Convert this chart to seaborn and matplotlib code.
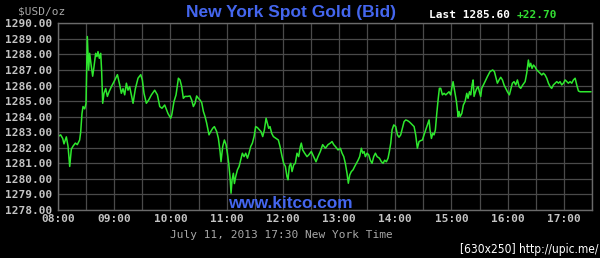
import matplotlib
matplotlib.use("Agg")
import matplotlib.pyplot as plt
import seaborn as sns
import pandas as pd
from matplotlib.ticker import FixedLocator, FuncFormatter

# ---- data (minutes after 08:00, New York time; bid price USD/oz) ----
minutes = [
    0, 2.8, 5.0, 6.4, 8.9, 10.7, 12.5, 14.2, 16.0, 18.5, 20.6, 23.1, 24.2, 25.6, 26.7, 28.5, 29.9,
    31.3, 32.7, 33.8, 35.2, 37.0, 38.4, 40.2, 41.6, 42.7, 44.1, 45.6, 46.6, 47.7, 49.1, 50.9, 52.7,
    54.5, 57.0, 59.8, 63.4, 65.9, 67.6, 69.4, 71.2, 73.0, 74.7, 76.5, 78.3, 80.1, 82.6, 85.4, 88.3,
    90.0, 91.8, 94.3, 96.8, 99.7, 103.2, 106.1, 108.6, 111.0, 113.9, 117.4, 120.3,
    121.4, 123.8, 126.0, 128.5, 130.2, 132.0, 133.8, 135.6, 138.1, 140.9, 142.7, 144.5, 146.3, 148.0,
    149.8, 151.6, 153.4, 155.2, 157.0, 158.7, 161.2, 163.0, 165.1, 166.9, 169.4, 171.2, 173.0, 174.0,
    175.8, 177.6, 179.4, 180.8, 182.2, 183.6, 184.7, 185.8, 187.2, 188.3, 189.7, 191.5, 193.3, 195.0,
    196.8, 198.6, 200.4, 202.2, 203.9, 205.7, 207.5, 209.3, 211.0, 212.8, 215.0, 216.7, 218.5, 220.3,
    222.1, 223.5, 224.9, 226.3, 228.1, 229.9, 232.7, 235.2, 237.0, 239.1,
    240.9, 242.7, 244.4, 245.5, 246.9, 248.4, 249.8, 251.6, 253.3, 255.1, 256.9, 258.7, 259.7, 261.2,
    263.3, 265.8, 267.6, 270.4, 272.9, 275.4, 277.5, 280.0, 282.5, 285.4, 288.2, 290.7, 292.5, 294.3,
    296.1, 298.9, 301.4, 303.2, 305.0, 306.7, 308.5, 309.9, 311.4, 313.1, 314.9, 316.7, 318.5, 320.3,
    322.0, 323.8, 325.3, 326.7, 328.1, 329.9, 331.7, 333.4, 335.2, 337.0, 338.8, 340.6, 343.1, 345.2,
    347.0, 348.7, 350.5, 352.3, 353.7, 355.2, 356.6, 358.4,
    360.5, 362.3, 364.0, 365.8, 367.6, 369.4, 371.2, 372.9, 374.7, 376.5, 378.3, 380.1, 381.8, 383.6,
    385.4, 387.2, 389.0, 390.7, 392.5, 394.3, 396.1, 397.1, 398.6, 400.0, 401.4, 402.8, 404.3, 405.7,
    407.1, 408.5, 410.3, 412.1, 413.9, 415.7, 417.4, 419.2, 420.3, 421.7, 423.5, 425.3, 427.1, 428.1,
    429.2, 431.0, 432.7, 434.5, 436.3, 437.7, 439.2, 440.6, 442.0, 443.1, 444.1, 445.6, 447.0, 448.4,
    449.8,
    451.2, 452.3, 454.1, 455.8, 458.3, 461.2, 464.0, 465.8, 467.6, 469.0, 470.8, 472.6, 474.4, 476.1,
    477.9, 479.7, 481.8, 483.6, 485.0, 486.8, 488.6, 490.4, 492.2, 493.9, 496.1, 498.6, 500.3, 502.1,
    503.2, 504.6, 506.0, 507.5, 509.2, 511.0, 512.8, 514.6, 516.4, 518.1, 519.9, 521.7, 523.5, 525.3,
    527.0, 528.8, 530.6, 532.4, 534.2, 535.9, 537.7, 539.5, 541.3, 543.1, 544.8, 546.6, 548.4, 550.2,
    552.0, 553.7, 555.5, 557.3, 569.0,
]
prices = [
    1282.72, 1282.83, 1282.6, 1282.25, 1282.7, 1282.1, 1280.8, 1281.9, 1282.1, 1282.3, 1282.2, 1282.5,
    1283.0, 1284.2, 1284.65, 1284.5, 1284.85,
    1289.15, 1287.0, 1288.07, 1287.4, 1286.6, 1287.2, 1288.07, 1287.86, 1288.18, 1287.75, 1288.07,
    1286.9, 1284.86, 1285.5, 1285.8, 1285.3,
    1285.6, 1285.93, 1286.25, 1286.7, 1286.04, 1285.5, 1285.8, 1285.4, 1286.15, 1285.7, 1285.93,
    1285.4, 1284.86, 1285.8, 1286.47, 1286.7,
    1286.36, 1285.5, 1284.86, 1285.07, 1285.4, 1285.7, 1285.4, 1284.65, 1284.54, 1284.75, 1284.2,
    1283.9,
    1284.1, 1284.97, 1285.4, 1286.47, 1286.36, 1285.93, 1285.18, 1285.3, 1285.3, 1285.33, 1285.07,
    1284.65, 1284.86, 1285.33,
    1285.18, 1285.07, 1284.9, 1284.33, 1284.0, 1283.58, 1282.83, 1283.04, 1283.25, 1283.36, 1283.04,
    1282.6, 1281.76, 1281.1,
    1282.08, 1282.5, 1282.2, 1281.65, 1281.0, 1280.15, 1279.08, 1279.94, 1280.36, 1279.7, 1280.15,
    1280.58, 1280.8, 1281.2,
    1281.65, 1281.43, 1281.65, 1281.33, 1281.65, 1282.08, 1282.3, 1282.72, 1283.36, 1283.3, 1283.15,
    1283.04, 1282.72, 1283.15,
    1283.9, 1283.58, 1283.25, 1283.36, 1282.93, 1282.72, 1282.6, 1282.5, 1282.08, 1281.45,
    1281.0, 1280.8, 1280.15, 1279.94, 1280.8, 1281.0, 1280.47, 1280.9, 1281.0, 1281.65, 1281.43,
    1282.08, 1282.3, 1281.86,
    1281.65, 1281.43, 1281.54, 1281.76, 1281.43, 1281.1, 1281.43, 1281.76, 1282.2, 1281.97, 1282.2,
    1282.3, 1282.4, 1282.2,
    1282.08, 1281.86, 1281.97, 1281.65, 1281.43, 1281.0, 1280.36, 1279.72, 1280.25, 1280.47, 1280.58,
    1280.8, 1281.0, 1281.2,
    1281.43, 1281.97, 1281.65, 1281.76, 1281.43, 1281.65, 1281.54, 1281.2, 1281.0, 1281.43, 1281.65,
    1281.43, 1281.33, 1281.1,
    1281.0, 1281.2, 1281.1, 1281.33, 1281.76, 1282.3, 1283.15, 1283.47,
    1283.36, 1282.83, 1282.68, 1282.83, 1283.25, 1283.68, 1283.79, 1283.75, 1283.68, 1283.58, 1283.47,
    1283.36, 1282.83, 1281.97,
    1282.4, 1282.46, 1282.5, 1282.83, 1283.15, 1283.47, 1283.79, 1283.15, 1282.6, 1282.93, 1282.83,
    1283.15, 1284.2, 1285.07,
    1285.82, 1285.82, 1285.4, 1285.5, 1285.4, 1285.5, 1285.6, 1285.4, 1285.82, 1286.25, 1285.6,
    1284.97, 1284.0, 1284.33,
    1284.0, 1284.2, 1284.75, 1284.97, 1285.5, 1285.18, 1285.6, 1285.4, 1286.04, 1286.36, 1285.3,
    1285.6, 1285.82, 1285.93,
    1285.6,
    1285.3, 1285.82, 1286.04, 1286.25, 1286.57, 1286.9, 1287.0, 1286.9, 1286.47, 1286.15, 1286.36,
    1286.53, 1286.36, 1286.04,
    1285.82, 1285.6, 1285.4, 1285.82, 1286.15, 1286.25, 1286.04, 1286.36, 1285.93, 1285.82, 1286.04,
    1286.25, 1286.79, 1287.64,
    1287.2, 1287.43, 1287.1, 1287.32, 1287.2, 1287.0, 1286.9, 1286.79, 1286.68, 1286.79, 1286.68,
    1286.47, 1286.15, 1285.93,
    1285.82, 1286.04, 1286.15, 1286.25, 1286.15, 1286.25, 1286.04, 1286.15, 1286.36, 1286.25, 1286.15,
    1286.25, 1286.15, 1286.36,
    1286.47, 1286.04, 1285.65, 1285.6, 1285.6,
]
hour_ticks = [0, 60, 120, 180, 240, 300, 360, 420, 480, 540]
hour_labels = ["08:00", "09:00", "10:00", "11:00", "12:00", "13:00", "14:00", "15:00", "16:00", "17:00"]
halfhour_ticks = [30, 90, 150, 210, 270, 330, 390, 450, 510, 570]
price_ticks = [1278, 1279, 1280, 1281, 1282, 1283, 1284, 1285, 1286, 1287, 1288, 1289, 1290]

title_text = "New York Spot Gold (Bid)"
last_text = "Last 1285.60"
change_text = "+22.70"
unit_text = "$USD/oz"
date_text = "July 11, 2013 17:30 New York Time"
site_text = "www.kitco.com"
credit_text = "[630x250] http://upic.me/"

df = pd.DataFrame({"minutes": minutes, "price": prices})

sns.set_theme(style="dark", rc={
    "figure.facecolor": "black",
    "axes.facecolor": "black",
    "axes.edgecolor": "#6a6a6a",
    "grid.color": "#4a4a4a",
    "savefig.facecolor": "black",
})
plt.rcParams["font.family"] = ["DejaVu Sans"]

W, H = 600, 258
fig = plt.figure(figsize=(W / 100, H / 100), dpi=100)
ax = fig.add_axes([58 / W, (H - 210) / H, (592 - 58) / W, (210 - 23.3) / H])

sns.lineplot(data=df, x="minutes", y="price", ax=ax, color="#2ee82e", linewidth=1.1)

ax.set_xlim(0, 570)
ax.set_ylim(1278, 1290)
ax.xaxis.set_major_locator(FixedLocator(hour_ticks))
ax.xaxis.set_minor_locator(FixedLocator(halfhour_ticks))
ax.set_xticklabels(hour_labels)
ax.yaxis.set_major_locator(FixedLocator(price_ticks))
ax.yaxis.set_major_formatter(FuncFormatter(lambda v, p: f"{v:.2f}"))
ax.set_xlabel("")
ax.set_ylabel("")
ax.grid(True, which="both", color="#4a4a4a", linewidth=0.9)
ax.set_axisbelow(True)
for s in ax.spines.values():
    s.set_visible(True)
    s.set_color("#6a6a6a")
    s.set_linewidth(1.0)

mono = {"family": ["DejaVu Sans Mono"], "weight": "bold", "size": 8}
ax.tick_params(axis="both", which="both", length=0, colors="#c4c4c4")
ax.tick_params(axis="y", pad=4)
ax.tick_params(axis="x", pad=3)
for lab in ax.get_xticklabels() + ax.get_yticklabels():
    lab.set_fontfamily(["DejaVu Sans Mono"])
    lab.set_fontweight("bold")
    lab.set_fontsize(8)
    lab.set_color("#c4c4c4")

def fx(px):
    return px / W

def fy(py):
    return 1 - py / H

fig.text(fx(42), fy(11), unit_text, ha="center", va="center", color="#a8a8a8",
         family=["DejaVu Sans Mono"], size=8)
fig.text(fx(290.5), fy(12), title_text, ha="center", va="center", color="#4466ee",
         family=["Liberation Sans"], weight="bold", size=12.5)
fig.text(fx(429), fy(15), last_text, ha="left", va="center", color="white", **mono)
fig.text(fx(517), fy(15), change_text, ha="left", va="center", color="#33dd33", **mono)
fig.text(fx(290.5), fy(203), site_text, ha="center", va="center", color="#4466ee",
         family=["Liberation Sans"], weight="bold", size=12.4)
fig.text(fx(281), fy(235), date_text, ha="center", va="center", color="#a8a8a8",
         family=["DejaVu Sans Mono"], size=8)
fig.text(fx(598), fy(249.5), credit_text, ha="right", va="center", color="white",
         family=["DejaVu Sans"], stretch="condensed", size=8.6)

fig.savefig("out.png", dpi=100, facecolor="black")
